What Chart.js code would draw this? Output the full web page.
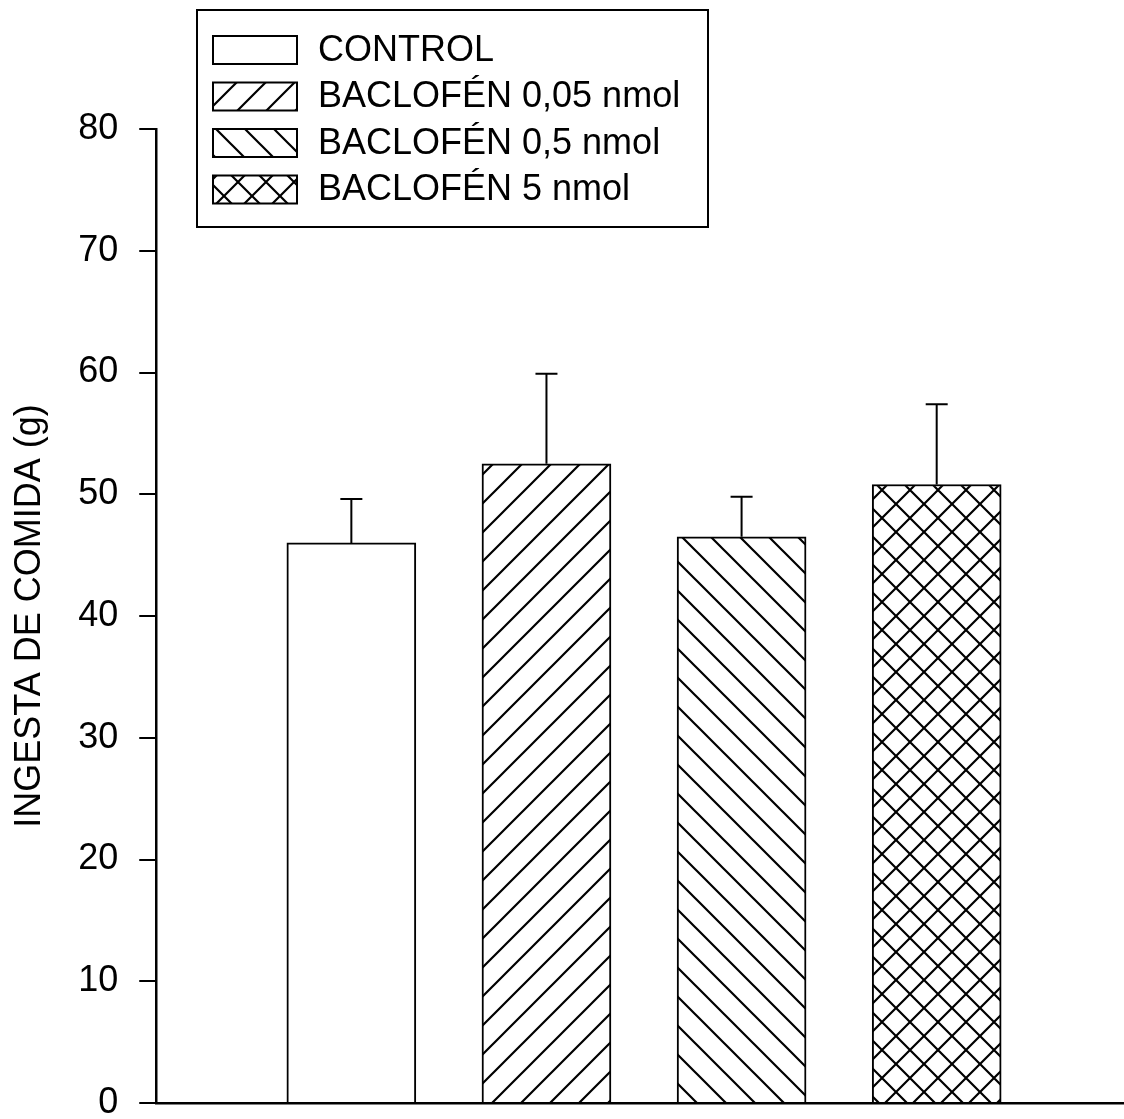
<!DOCTYPE html>
<html lang="es">
<head>
    <meta charset="UTF-8">
    <title>Ingesta de comida - Baclofén</title>
    <script src="https://cdn.jsdelivr.net/npm/chart.js"></script>
    <style>
        body {
            margin: 0;
            background: #fff;
        }
        .chart-container {
            width: 1124px;
            height: 1119px;
        }
    </style>
</head>
<body>

    <div class="chart-container">
        <canvas id="barChart"></canvas>
    </div>

    <script>
        // Data
        const groups = ['CONTROL', 'BACLOFÉN 0,05 nmol', 'BACLOFÉN 0,5 nmol', 'BACLOFÉN 5 nmol'];
        const positions = [1, 2, 3, 4];
        const means = [46.0, 52.5, 46.5, 50.8];
        const sems = [3.6, 7.4, 3.3, 6.6];
        const yTicks = [0, 10, 20, 30, 40, 50, 60, 70, 80];
        const hatches = ['none', '/', '\\', 'x'];

        Chart.defaults.font.family = 'Arial, "Liberation Sans", sans-serif';
        Chart.defaults.color = '#000';

        // Build a hatch fill as a canvas pattern
        function makePattern(kind) {
            if (kind === 'none') return '#ffffff';
            const s = kind === 'x' ? 28 : 29;
            const c = document.createElement('canvas');
            c.width = s;
            c.height = s;
            const g = c.getContext('2d');
            g.fillStyle = '#fff';
            g.fillRect(0, 0, s, s);
            g.strokeStyle = '#000';
            g.lineWidth = 2.2;
            g.beginPath();
            if (kind === '/' || kind === 'x') {
                g.moveTo(-2, s + 2); g.lineTo(s + 2, -2);
                g.moveTo(-2, 2); g.lineTo(2, -2);
                g.moveTo(s - 2, s + 2); g.lineTo(s + 2, s - 2);
            }
            if (kind === '\\' || kind === 'x') {
                g.moveTo(-2, -2); g.lineTo(s + 2, s + 2);
                g.moveTo(-2, s - 2); g.lineTo(2, s + 2);
                g.moveTo(s - 2, -2); g.lineTo(s + 2, 2);
            }
            g.stroke();
            return g.createPattern(c, 'repeat');
        }

        const fills = hatches.map(makePattern);

        // Error bars (mean + SEM, upper side only)
        const errorBars = {
            id: 'errorBars',
            afterDatasetsDraw(chart) {
                const ctx = chart.ctx;
                const yScale = chart.scales.y;
                const meta = chart.getDatasetMeta(0);
                ctx.save();
                ctx.strokeStyle = '#000';
                ctx.lineWidth = 2;
                meta.data.forEach((bar, i) => {
                    const yTop = yScale.getPixelForValue(means[i] + sems[i]);
                    ctx.beginPath();
                    ctx.moveTo(bar.x, bar.y);
                    ctx.lineTo(bar.x, yTop);
                    ctx.moveTo(bar.x - 11, yTop);
                    ctx.lineTo(bar.x + 11, yTop);
                    ctx.stroke();
                });
                ctx.restore();
            }
        };

        // Boxed legend in the upper left corner
        const boxLegend = {
            id: 'boxLegend',
            afterDraw(chart) {
                const ctx = chart.ctx;
                ctx.save();
                ctx.fillStyle = '#fff';
                ctx.fillRect(197, 10, 511, 217);
                ctx.strokeStyle = '#000';
                ctx.lineWidth = 2;
                ctx.strokeRect(197, 10, 511, 217);
                ctx.font = '36px Arial, "Liberation Sans", sans-serif';
                ctx.textBaseline = 'middle';
                groups.forEach((label, i) => {
                    const cy = 50 + i * 46.5;
                    ctx.fillStyle = fills[i];
                    ctx.fillRect(213, cy - 14, 84, 28);
                    ctx.lineWidth = 2;
                    ctx.strokeRect(213, cy - 14, 84, 28);
                    ctx.fillStyle = '#000';
                    ctx.fillText(label, 318, cy + 1);
                });
                ctx.restore();
            }
        };

        const ctx = document.getElementById('barChart').getContext('2d');
        const chart = new Chart(ctx, {
            type: 'bar',
            data: {
                labels: groups,
                datasets: [{
                    label: 'Ingesta de comida',
                    data: positions.map((x, i) => ({ x: x, y: means[i] })),
                    backgroundColor: fills,
                    borderColor: '#000',
                    borderWidth: 2,
                    barThickness: 129,
                }]
            },
            options: {
                responsive: true,
                maintainAspectRatio: false,
                animation: false,
                layout: {
                    padding: { top: 129, right: 0, bottom: 16, left: 0 }
                },
                plugins: {
                    legend: { display: false },
                    tooltip: { enabled: false }
                },
                scales: {
                    x: {
                        type: 'linear',
                        min: 0,
                        max: 4.96,
                        offset: false,
                        grid: { display: false, drawTicks: false },
                        ticks: { display: false },
                        border: { color: '#000', width: 2.5 }
                    },
                    y: {
                        min: 0,
                        max: 80,
                        afterBuildTicks(scale) {
                            scale.ticks = yTicks.map(v => ({ value: v }));
                        },
                        // keep the tick labels from pushing the plot area in
                        afterFit(scale) {
                            scale.paddingTop = 0;
                            scale.paddingBottom = 0;
                        },
                        ticks: {
                            padding: 21,
                            font: { size: 36 },
                            color: '#000'
                        },
                        grid: {
                            drawOnChartArea: false,
                            drawTicks: true,
                            tickLength: 17,
                            color: '#000',
                            lineWidth: 2
                        },
                        border: { color: '#000', width: 2.5 },
                        title: {
                            display: true,
                            text: 'INGESTA DE COMIDA (g)',
                            font: { size: 36 },
                            color: '#000',
                            padding: { top: 8, bottom: 6 }
                        }
                    }
                }
            },
            plugins: [errorBars, boxLegend]
        });
    </script>

</body>
</html>
